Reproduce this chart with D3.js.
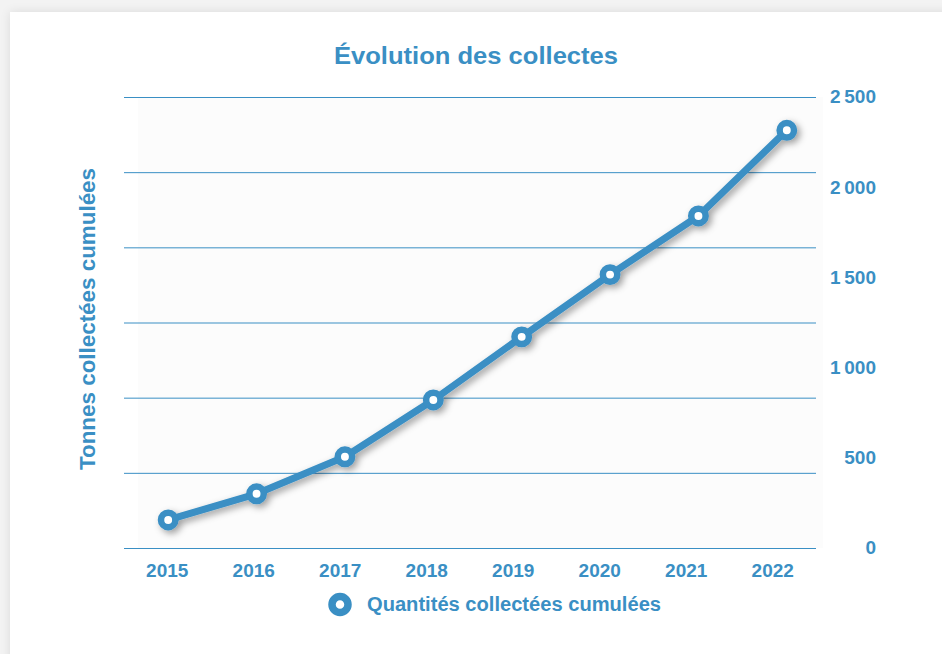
<!DOCTYPE html>
<html><head><meta charset="utf-8">
<script src="https://cdn.jsdelivr.net/npm/d3@7"></script>
<style>
html,body{margin:0;padding:0;background:#f3f3f3;width:942px;height:654px;overflow:hidden;}
#card{position:absolute;left:10px;top:12px;width:960px;height:680px;background:#fff;box-shadow:0 0 10px rgba(0,0,0,0.10);}
svg{position:absolute;left:0;top:0;}
</style></head>
<body><div id="card"></div><svg id="chart" width="942" height="654"></svg>
<script>
const years = ["2015","2016","2017","2018","2019","2020","2021","2022"];
const values = [150, 295, 500, 815, 1165, 1510, 1835, 2310];
const rightTicks = [0, 500, 1000, 1500, 2000, 2500];
const gridTicks = [0, 1, 2, 3, 4, 5, 6];
const title = "Évolution des collectes";
const yTitle = "Tonnes collectées cumulées";
const seriesName = "Quantités collectées cumulées";

const color = "#3a8fc4";
const font = "'Liberation Sans', Arial, Helvetica, sans-serif";
const svg = d3.select("#chart");

const defs = svg.append("defs");
const f = defs.append("filter").attr("id","sh").attr("x","-20%").attr("y","-20%").attr("width","140%").attr("height","140%");
f.append("feDropShadow").attr("dx",3).attr("dy",3).attr("stdDeviation",3.5).attr("flood-color","#000").attr("flood-opacity",0.38);

const xBand = d3.scaleBand().domain(years).range([124, 816]);
const xPts = d3.scaleBand().domain(years).range([124, 831]);
const yGrid = d3.scaleLinear().domain([0, 6]).range([548, 97]);
const yR = d3.scaleLinear().domain([0, 2500]).range([547, 96]);

// faint plot background
svg.append("rect").attr("x",138).attr("y",97).attr("width",685).attr("height",451).attr("fill","#fcfcfc");

// gridlines
const gAx = svg.append("g").attr("transform","translate(124,0)")
  .call(d3.axisRight(yGrid).tickValues(gridTicks).tickSize(692).tickFormat(""));
gAx.select(".domain").remove();
gAx.selectAll(".tick line").attr("stroke", color).attr("stroke-width", 1);

// right axis labels
const fmt = d => d >= 1000 ? d3.format(",")(d).replace(",", "\u202f") : String(d);
const rAx = svg.append("g").attr("transform","translate(876,0)")
  .call(d3.axisLeft(yR).tickValues(rightTicks).tickSize(0).tickPadding(0).tickFormat(fmt));
rAx.select(".domain").remove();
rAx.selectAll("text").attr("fill", color).attr("font-family", font).attr("font-weight","bold").attr("font-size", 19).attr("text-anchor","end").attr("dy","0.36em");

// x axis labels
const xAx = svg.append("g").attr("transform","translate(0,548)")
  .call(d3.axisBottom(xBand).tickSize(0).tickPadding(0));
xAx.select(".domain").remove();
xAx.selectAll("text").attr("fill", color).attr("font-family", font).attr("font-weight","bold").attr("font-size", 19).attr("dy","1.52em");

// line
const line = d3.line().x((d,i)=>xPts(years[i]) + xPts.bandwidth()/2).y(d=>yR(d));
const lg = svg.append("g").attr("filter","url(#sh)");
lg.append("path").datum(values).attr("d", line).attr("fill","none").attr("stroke", color).attr("stroke-width",7).attr("stroke-linejoin","round");
lg.selectAll("circle").data(values).join("circle")
  .attr("cx",(d,i)=>xPts(years[i]) + xPts.bandwidth()/2).attr("cy",d=>yR(d))
  .attr("r",7.2).attr("fill","#fff").attr("stroke",color).attr("stroke-width",6.5);

// title
svg.append("text").attr("x",476).attr("y",64).attr("text-anchor","middle")
  .attr("textLength",284).attr("lengthAdjust","spacingAndGlyphs")
  .attr("fill",color).attr("font-family",font).attr("font-weight","bold").attr("font-size",24).text(title);

// y title
svg.append("text").attr("transform","translate(95,319) rotate(-90)").attr("text-anchor","middle")
  .attr("textLength",302).attr("lengthAdjust","spacingAndGlyphs")
  .attr("fill",color).attr("font-family",font).attr("font-weight","bold").attr("font-size",21.5).text(yTitle);

// legend
svg.append("circle").attr("cx",340).attr("cy",604.5).attr("r",8).attr("fill","#fff").attr("stroke",color).attr("stroke-width",7.5);
svg.append("text").attr("x",367).attr("y",611).attr("textLength",294).attr("lengthAdjust","spacingAndGlyphs")
  .attr("fill",color).attr("font-family",font).attr("font-weight","bold").attr("font-size",20).text(seriesName);
</script></body></html>
